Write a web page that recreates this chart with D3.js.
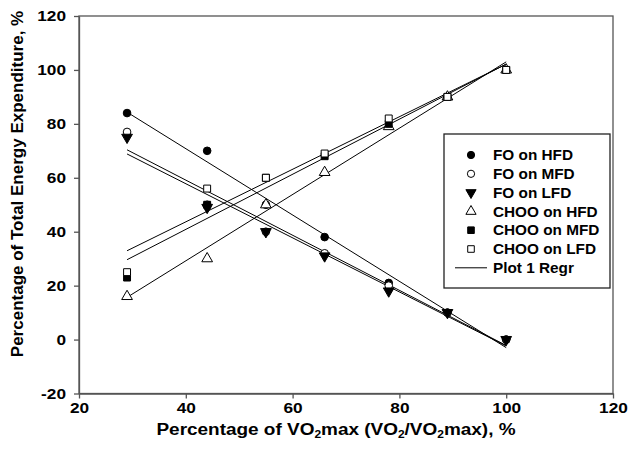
<!DOCTYPE html>
<html><head><meta charset="utf-8">
<script src="https://cdn.jsdelivr.net/npm/d3@7"></script>
<style>
body{margin:0;background:#fff;}
svg text{font-family:"Liberation Sans",Arial,Helvetica,sans-serif;font-weight:bold;fill:#000;}
</style></head>
<body>
<svg id="chart" width="628" height="451"></svg>
<script>
// ---- data ----
const xValues = [29, 44, 55, 66, 78, 89, 100];
const foHFD   = [84, 70, 50, 38, 21, 10, 0];
const foMFD   = [77, 50, 40, 32, 20, 10, 0];
const foLFD   = [75, 49, 40, 31, 18, 10, 0];
const chooHFD = [16, 30, 50, 62, 79, 90, 100];
const chooMFD = [23, 50, 60, 68, 80, 90, 100];
const chooLFD = [25, 56, 60, 69, 82, 90, 100];
const seriesNames = ["FO on HFD", "FO on MFD", "FO on LFD", "CHOO on HFD", "CHOO on MFD", "CHOO on LFD"];
const regrLabel = "Plot 1 Regr";
const xTicks = [20, 40, 60, 80, 100, 120];
const yTicks = [-20, 0, 20, 40, 60, 80, 100, 120];
// x title pieces: [text, isSubscript]
const xTitleParts = [["Percentage of VO", false], ["2", true], ["max (VO", false], ["2", true], ["/VO", false], ["2", true], ["max), %", false]];
const yTitle = "Percentage of Total Energy Expenditure, %";

const seriesValues = [foHFD, foMFD, foLFD, chooHFD, chooMFD, chooLFD];
const symbols = [
  {type: d3.symbolCircle, fill: "#000"},
  {type: d3.symbolCircle, fill: "#fff"},
  {type: d3.symbolTriangle, fill: "#000", rot: 180},
  {type: d3.symbolTriangle, fill: "#fff"},
  {type: d3.symbolSquare, fill: "#000"},
  {type: d3.symbolSquare, fill: "#fff"}
];
const symSize = [46, 46, 50, 50, 48, 48];

const svg = d3.select("#chart");
const L = 79, R = 613, T = 16, B = 393.5;
const x = d3.scaleLinear().domain([20, 120]).range([L, R]);
const y = d3.scaleLinear().domain([-20, 120]).range([B, T]);
const SX = 1.15;
const frameColor = "#555";

// frame
svg.append("rect").attr("x", L).attr("y", T).attr("width", R - L).attr("height", B - T)
  .attr("fill", "none").attr("stroke", frameColor).attr("stroke-width", 1.3);

const fmt = d => String(d);
const xAxis = svg.append("g").attr("transform", `translate(0,${B})`)
  .call(d3.axisBottom(x).tickValues(xTicks).tickFormat(fmt).tickSize(5).tickSizeOuter(0).tickPadding(4));
const yAxis = svg.append("g").attr("transform", `translate(${L},0)`)
  .call(d3.axisLeft(y).tickValues(yTicks).tickFormat(fmt).tickSize(5).tickSizeOuter(0).tickPadding(8));
[xAxis, yAxis].forEach(a => {
  a.select(".domain").attr("stroke", frameColor).attr("stroke-width", 1.3);
  a.selectAll(".tick line").attr("stroke", frameColor).attr("stroke-width", 1.3);
  a.selectAll("text").attr("font-size", 15).attr("font-family", null).attr("fill", "#000");
});
xAxis.selectAll("text").attr("transform", `scale(${SX},1)`).attr("x", 0);
yAxis.selectAll("text").each(function(){
  const t = d3.select(this); const xx = +t.attr("x");
  t.attr("x", xx / SX).attr("transform", `scale(${SX},1)`);
});

// regression lines
function regress(xs, ys) {
  const mx = d3.mean(xs), my = d3.mean(ys);
  let sxy = 0, sxx = 0;
  xs.forEach((v, i) => { sxy += (v - mx) * (ys[i] - my); sxx += (v - mx) ** 2; });
  const b = sxy / sxx, a = my - b * mx;
  return v => a + b * v;
}
const xExt = d3.extent(xValues);
const line = d3.line().x(d => x(d[0])).y(d => y(d[1]));
seriesValues.forEach(vals => {
  const f = regress(xValues, vals);
  svg.append("path").attr("d", line(xExt.map(v => [v, f(v)])))
    .attr("fill", "none").attr("stroke", "#000").attr("stroke-width", 1);
});

// points
seriesValues.forEach((vals, si) => {
  const s = symbols[si];
  const gen = d3.symbol().type(s.type).size(symSize[si]);
  svg.append("g").selectAll("path").data(vals).join("path")
    .attr("d", gen)
    .attr("transform", (d, i) => `translate(${x(xValues[i])},${y(d)})` + (s.rot ? ` rotate(${s.rot})` : ""))
    .attr("fill", s.fill).attr("stroke", "#000").attr("stroke-width", 1);
});

// legend
const lg = svg.append("g");
lg.append("rect").attr("x", 444).attr("y", 134).attr("width", 166).attr("height", 154)
  .attr("fill", "#fff").attr("stroke", "#222").attr("stroke-width", 1.3);
const rowY = i => 155 + i * 18.8;
seriesNames.forEach((name, i) => {
  const s = symbols[i];
  lg.append("path").attr("d", d3.symbol().type(s.type).size(symSize[i] * 0.9)())
    .attr("transform", `translate(471,${rowY(i)})` + (s.rot ? ` rotate(${s.rot})` : ""))
    .attr("fill", s.fill).attr("stroke", "#000").attr("stroke-width", 1);
  lg.append("text").attr("x", 493 / 1.08).attr("y", rowY(i)).attr("dy", "0.36em")
    .attr("transform", "scale(1.08,1)").attr("font-size", 14.2).text(name);
});
lg.append("line").attr("x1", 455).attr("x2", 487).attr("y1", rowY(6)).attr("y2", rowY(6))
  .attr("stroke", "#000").attr("stroke-width", 1);
lg.append("text").attr("x", 493 / 1.08).attr("y", rowY(6)).attr("dy", "0.36em")
  .attr("transform", "scale(1.08,1)").attr("font-size", 14.2).text(regrLabel);

// axis titles
const xt = svg.append("text").attr("x", 336 / 1.2).attr("y", 435).attr("text-anchor", "middle")
  .attr("transform", "scale(1.2,1)").attr("font-size", 15.8);
xTitleParts.forEach(([t, sub], i) => {
  const ts = xt.append("tspan").text(t);
  if (sub) ts.attr("font-size", 10).attr("dy", 3);
  else if (i > 0) ts.attr("dy", -3);
});
svg.append("text").attr("transform", "translate(23,184) rotate(-90)").attr("text-anchor", "middle")
  .attr("font-size", 17).text(yTitle);
</script>
</body></html>
